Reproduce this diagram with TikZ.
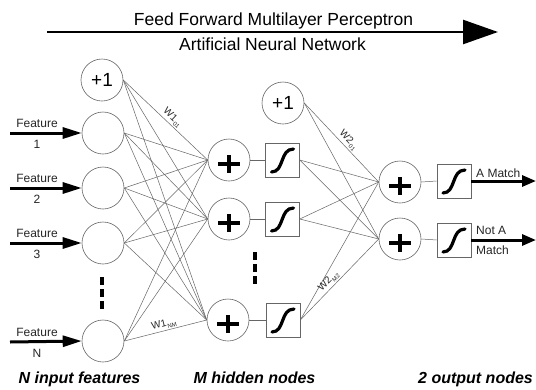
\documentclass[tikz,border=0pt]{standalone}
\usepackage{fontspec}
\setmainfont{Liberation Sans}
\usetikzlibrary{arrows.meta}
\newcommand\wsub[1]{\kern0.6pt\raisebox{-2.5pt}{\fontsize{6}{6}\selectfont#1}}
\begin{document}
\begin{tikzpicture}[x=1pt,y=-1pt,
  neuron/.style={circle, draw=black!60, line width=0.6pt, minimum size=42pt, inner sep=0pt},
  bias/.style={neuron, font=\fontsize{19}{19}\selectfont},
  sumnode/.style={neuron, path picture={
      \draw[draw=black, line width=3.4pt]
        ([shift={(-11pt,-4pt)}]path picture bounding box.center) -- ++(22pt,0pt)
        ([shift={(0pt,5pt)}]path picture bounding box.center) -- ++(0pt,-18pt);}},
  sigbox/.style={draw=black!60, line width=0.6pt, minimum size=34pt, inner sep=0pt,
    path picture={
      \draw[draw=black, line width=3.2pt, line cap=round]
        ([shift={(-11pt,-12pt)}]path picture bounding box.center)
        .. controls +(13pt,0pt) and +(-14pt,0pt) ..
        ([shift={(11pt,11pt)}]path picture bounding box.center);}},
  wire/.style={draw=black!60, line width=0.5pt},
  feat/.style={line width=3pt, -{Triangle[length=19pt,width=11pt]}},
  outarrow/.style={line width=3pt, -{Triangle[length=14pt,width=11pt]}},
  flabel/.style={font=\fontsize{12}{12}\selectfont, text=black!85, inner sep=0pt},
  wlabel/.style={sloped, above, inner sep=1.5pt, font=\fontsize{10}{10}\selectfont, text=black!85},
  title/.style={font=\fontsize{17.5}{17.5}\selectfont, anchor=base, inner sep=0pt},
  layerlabel/.style={font=\fontsize{16}{16}\selectfont\bfseries\itshape, anchor=base, inner sep=0pt},
  dots/.style={line width=3.2pt, dash pattern=on 8pt off 4pt}
]
\fill[white] (0,0) rectangle (536,389);
\useasboundingbox (0,0) rectangle (536,389);

% heading arrow
\node[title] (t1) at (273.5,25) {Feed Forward Multilayer Perceptron};
\node[title] (t2) at (272.5,50) {Artificial Neural Network};
\coordinate (ta) at (47,32);
\coordinate (tb) at (498,32);
\draw[line width=2.5pt, -{Triangle[length=35pt,width=24pt]}] (ta) -- (tb);

% input layer
\node[bias] (in0) at (102,80) {+1};
\node[neuron] (in1) at (103,133) {};
\node[neuron] (in2) at (103,188) {};
\node[neuron] (in3) at (103,243) {};
\node[neuron] (inN) at (103,341) {};
\draw[dots] (102,277) -- (102,311);

% hidden layer
\node[bias] (hb) at (283,103) {+1};
\node[sumnode] (h1) at (229,160) {};
\node[sumnode] (h2) at (229,219) {};
\node[sumnode] (hN) at (228,320) {};
\node[sigbox] (s1) at (282.5,160) {};
\node[sigbox] (s2) at (282.5,219) {};
\node[sigbox] (sN) at (283,320) {};
\draw[dots] (255,252) -- (255,286);

% output layer
\node[sumnode] (o1) at (400,182) {};
\node[sumnode] (o2) at (400,239) {};
\node[sigbox] (r1) at (454,181) {};
\node[sigbox] (r2) at (454,240) {};

% weights
\foreach \i in {in0,in1,in2,in3,inN}
  \foreach \j in {h1,h2,hN}
    \draw[wire] (\i.east) -- (\j.west);
\foreach \i in {hb,s1,s2,sN}
  \foreach \j in {o1,o2}
    \draw[wire] (\i.east) -- (\j.west);
\foreach \j/\s in {h1/s1,h2/s2,hN/sN,o1/r1,o2/r2}
  \draw[wire] (\j.east) -- (\s.west);

\path (in0.east) -- node[wlabel, pos=0.53] {W1\wsub{01}} (h1.west);
\path (inN.east) -- node[wlabel, pos=0.5] {W1\wsub{NM}} (hN.west);
\path (hb.east) -- node[wlabel, pos=0.53] {W2\wsub{01}} (o1.west);
\path (sN.east) -- node[wlabel, pos=0.42] {W2\wsub{M2}} (o2.west);

% input features
\foreach \n/\y/\t in {in1/133/1, in2/188/2, in3/243/3, inN/342/N}{
  \coordinate (f\n) at (10,\y);
  \draw[feat] (f\n) -- (\n.west);
  \node[flabel] (fa\n) at (37,\y-10) {Feature};
  \node[flabel] (fb\n) at (37,\y+11) {\t};
}

% outputs
\coordinate (e1) at (536,181);
\coordinate (e2) at (536,240);
\draw[outarrow] (r1.east) -- (e1);
\draw[outarrow] (r2.east) -- (e2);
\node[flabel, anchor=west] (l1) at (476,173) {A Match};
\node[flabel, anchor=west] (l2) at (476,230) {Not A};
\node[flabel, anchor=west] (l3) at (476,250) {Match};

% layer captions
\node[layerlabel] (c1) at (79.5,383) {N input features};
\node[layerlabel] (c2) at (254.5,383) {M hidden nodes};
\node[layerlabel, anchor=base west] (c3) at (418,383) {2 output nodes};
\end{tikzpicture}
\end{document}
